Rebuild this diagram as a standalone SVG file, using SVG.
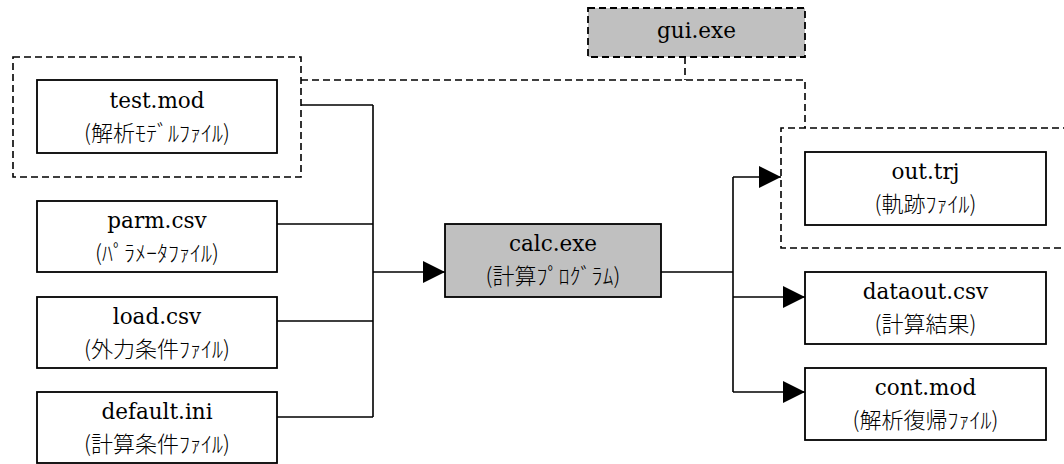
<svg xmlns="http://www.w3.org/2000/svg" width="1064" height="464" viewBox="0 0 1064 464">
<style>
.box{fill:#fff;stroke:#000;stroke-width:1.8}
.exe{fill:#c0c0c0;stroke:#000;stroke-width:1.8}
.dash{fill:none;stroke:#000;stroke-width:1.6;stroke-dasharray:7 4}
.ln{fill:none;stroke:#000;stroke-width:1.6}
.t1{font-family:'DejaVu Serif',serif;font-size:21.5px;text-anchor:middle;fill:#000}
.t2{font-family:'Noto Sans CJK JP',sans-serif;font-size:22px;font-weight:300;text-anchor:middle;fill:#000}
</style>
<defs>
<marker id="ah" markerUnits="userSpaceOnUse" markerWidth="22" markerHeight="22" viewBox="0 0 20 20" refX="20" refY="10" orient="auto">
<path d="M0,0 L20,10 L0,20 Z" fill="#000"/>
</marker>
</defs>
<rect width="1064" height="464" fill="#fff"/>
<g id="groups">
<rect x="13" y="57" width="288" height="120" class="dash"/>
<path d="M1070,128 H781 V248 H1070" class="dash"/>
</g>
<g id="connectors">
<path d="M685,57 V80 M301,80 H805 V128" class="dash"/>
<path d="M301,105 H373 M277,224 H373 M277,321 H373 M277,417 H373 M373,105 V417" class="ln"/>
<path d="M373,272 H445" class="ln" marker-end="url(#ah)"/>
<path d="M661,272 H733 M733,177 V392" class="ln"/>
<path d="M733,177 H781" class="ln" marker-end="url(#ah)"/>
<path d="M733,297 H805" class="ln" marker-end="url(#ah)"/>
<path d="M733,392 H805" class="ln" marker-end="url(#ah)"/>
</g>
<g id="gui">
<rect x="588" y="8" width="217" height="49" class="exe" style="stroke-dasharray:7 4"/>
<text x="696.5" y="38" class="t1">gui.exe</text>
</g>
<g id="test">
<rect x="37" y="80" width="240" height="73" class="box"/>
<text x="157" y="108" class="t1">test.mod</text>
<text x="157" y="141" class="t2">(解析ﾓﾃﾞﾙﾌｧｲﾙ)</text>
</g>
<g id="parm">
<rect x="37" y="201" width="240" height="71" class="box"/>
<text x="157" y="228" class="t1">parm.csv</text>
<text x="157" y="261" class="t2">(ﾊﾟﾗﾒｰﾀﾌｧｲﾙ)</text>
</g>
<g id="load">
<rect x="37" y="297" width="240" height="71" class="box"/>
<text x="157" y="324" class="t1">load.csv</text>
<text x="157" y="357" class="t2">(外力条件ﾌｧｲﾙ)</text>
</g>
<g id="default">
<rect x="37" y="392" width="240" height="71" class="box"/>
<text x="157" y="419" class="t1">default.ini</text>
<text x="157" y="452" class="t2">(計算条件ﾌｧｲﾙ)</text>
</g>
<g id="calc">
<rect x="445" y="224" width="216" height="73" class="exe"/>
<text x="553" y="251" class="t1">calc.exe</text>
<text x="553" y="284" class="t2">(計算ﾌﾟﾛｸﾞﾗﾑ)</text>
</g>
<g id="out">
<rect x="805" y="152" width="241" height="73" class="box"/>
<text x="925.5" y="179" class="t1">out.trj</text>
<text x="925.5" y="212" class="t2">(軌跡ﾌｧｲﾙ)</text>
</g>
<g id="dataout">
<rect x="805" y="272" width="241" height="72" class="box"/>
<text x="925.5" y="299" class="t1">dataout.csv</text>
<text x="925.5" y="332" class="t2">(計算結果)</text>
</g>
<g id="cont">
<rect x="805" y="368" width="241" height="72" class="box"/>
<text x="925.5" y="395" class="t1">cont.mod</text>
<text x="925.5" y="428" class="t2">(解析復帰ﾌｧｲﾙ)</text>
</g>
</svg>
